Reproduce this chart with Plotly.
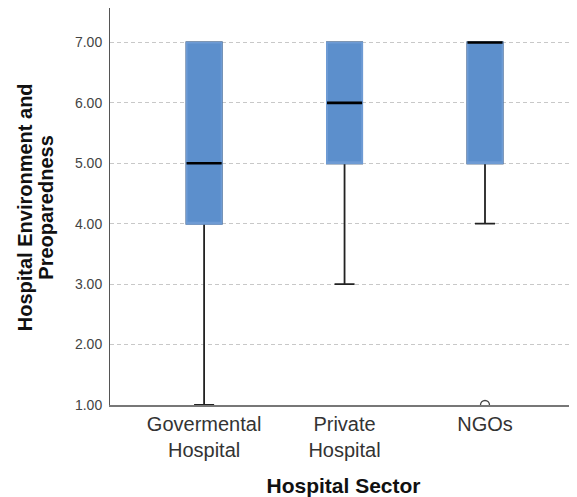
import plotly.graph_objects as go

categories = ["Govermental Hospital", "Private Hospital", "NGOs"]
tick_labels = ["Govermental<br>Hospital", "Private<br>Hospital", "NGOs"]
lower_whisker = [1.0, 3.0, 4.0]
q1 = [4.0, 5.0, 5.0]
median = [5.0, 6.0, 7.0]
q3 = [7.0, 7.0, 7.0]
upper_whisker = [7.0, 7.0, 7.0]
outlier_cat = ["NGOs"]
outlier_val = [1.0]

y_ticks = [1, 2, 3, 4, 5, 6, 7]

FILL = "rgb(92,143,204)"
EDGE = "rgb(110,155,212)"
FONT = "Liberation Sans, Arial, sans-serif"
BOXW = 0.25

fig = go.Figure()

# whiskers (full box in black; its body gets covered by the next trace)
fig.add_trace(go.Box(
    x=categories, q1=q1, median=median, q3=q3,
    lowerfence=lower_whisker, upperfence=upper_whisker,
    width=BOXW, whiskerwidth=0.57,
    line=dict(color="#222222", width=1.8),
    fillcolor=FILL, boxpoints=False, hoverinfo="skip", showlegend=False,
))
# box body
fig.add_trace(go.Box(
    x=categories, q1=q1, median=q1, q3=q3,
    lowerfence=q1, upperfence=q3,
    width=BOXW, whiskerwidth=0,
    line=dict(color=EDGE, width=2),
    fillcolor=FILL, boxpoints=False, hoverinfo="skip", showlegend=False,
))
# median line
fig.add_trace(go.Box(
    x=categories, q1=median, median=median, q3=median,
    lowerfence=median, upperfence=median,
    width=BOXW, whiskerwidth=0,
    line=dict(color="#000000", width=2.6),
    fillcolor="rgba(0,0,0,0)", boxpoints=False, hoverinfo="skip", showlegend=False,
))
# outlier
fig.add_trace(go.Scatter(
    x=outlier_cat, y=outlier_val, mode="markers",
    marker=dict(symbol="circle-open", size=9, color="#444444", line=dict(width=1.3)),
    showlegend=False, hoverinfo="skip",
))

fig.update_layout(
    width=577, height=497,
    margin=dict(l=102, r=8, t=0, b=100),
    plot_bgcolor="white", paper_bgcolor="white",
    boxmode="overlay",
    font=dict(family=FONT, color="#000"),
    xaxis=dict(
        type="category", categoryorder="array", categoryarray=categories,
        range=[-0.67, 2.655],
        tickvals=categories, ticktext=tick_labels,
        tickfont=dict(size=20, color="#333333", family=FONT),
        ticks="", showgrid=False, zeroline=False,
        showline=True, linecolor="#777777", linewidth=1.5,
        title=dict(text="<b>Hospital Sector</b>", font=dict(size=21, color="#111", family=FONT), standoff=19),
    ),
    yaxis=dict(
        range=[1, 7.57], tickvals=y_ticks, tickformat=".2f",
        tickfont=dict(size=14, color="#444444", family=FONT),
        ticks="", ticklabelstandoff=4,
        showgrid=True, gridcolor="#c8c8c8", griddash="4px,3px", gridwidth=1,
        zeroline=False, showline=True, linecolor="#555555", linewidth=1,
    ),
    annotations=[
        dict(text="<b>Hospital Environment and</b>", xref="paper", yref="paper",
             x=-0.183, y=0.497, textangle=-90, showarrow=False,
             font=dict(size=20, color="#111", family=FONT), xanchor="center", yanchor="middle"),
        dict(text="<b>Preoparedness</b>", xref="paper", yref="paper",
             x=-0.137, y=0.497, textangle=-90, showarrow=False,
             font=dict(size=20, color="#111", family=FONT), xanchor="center", yanchor="middle"),
    ],
)

fig.write_html("out.html")
